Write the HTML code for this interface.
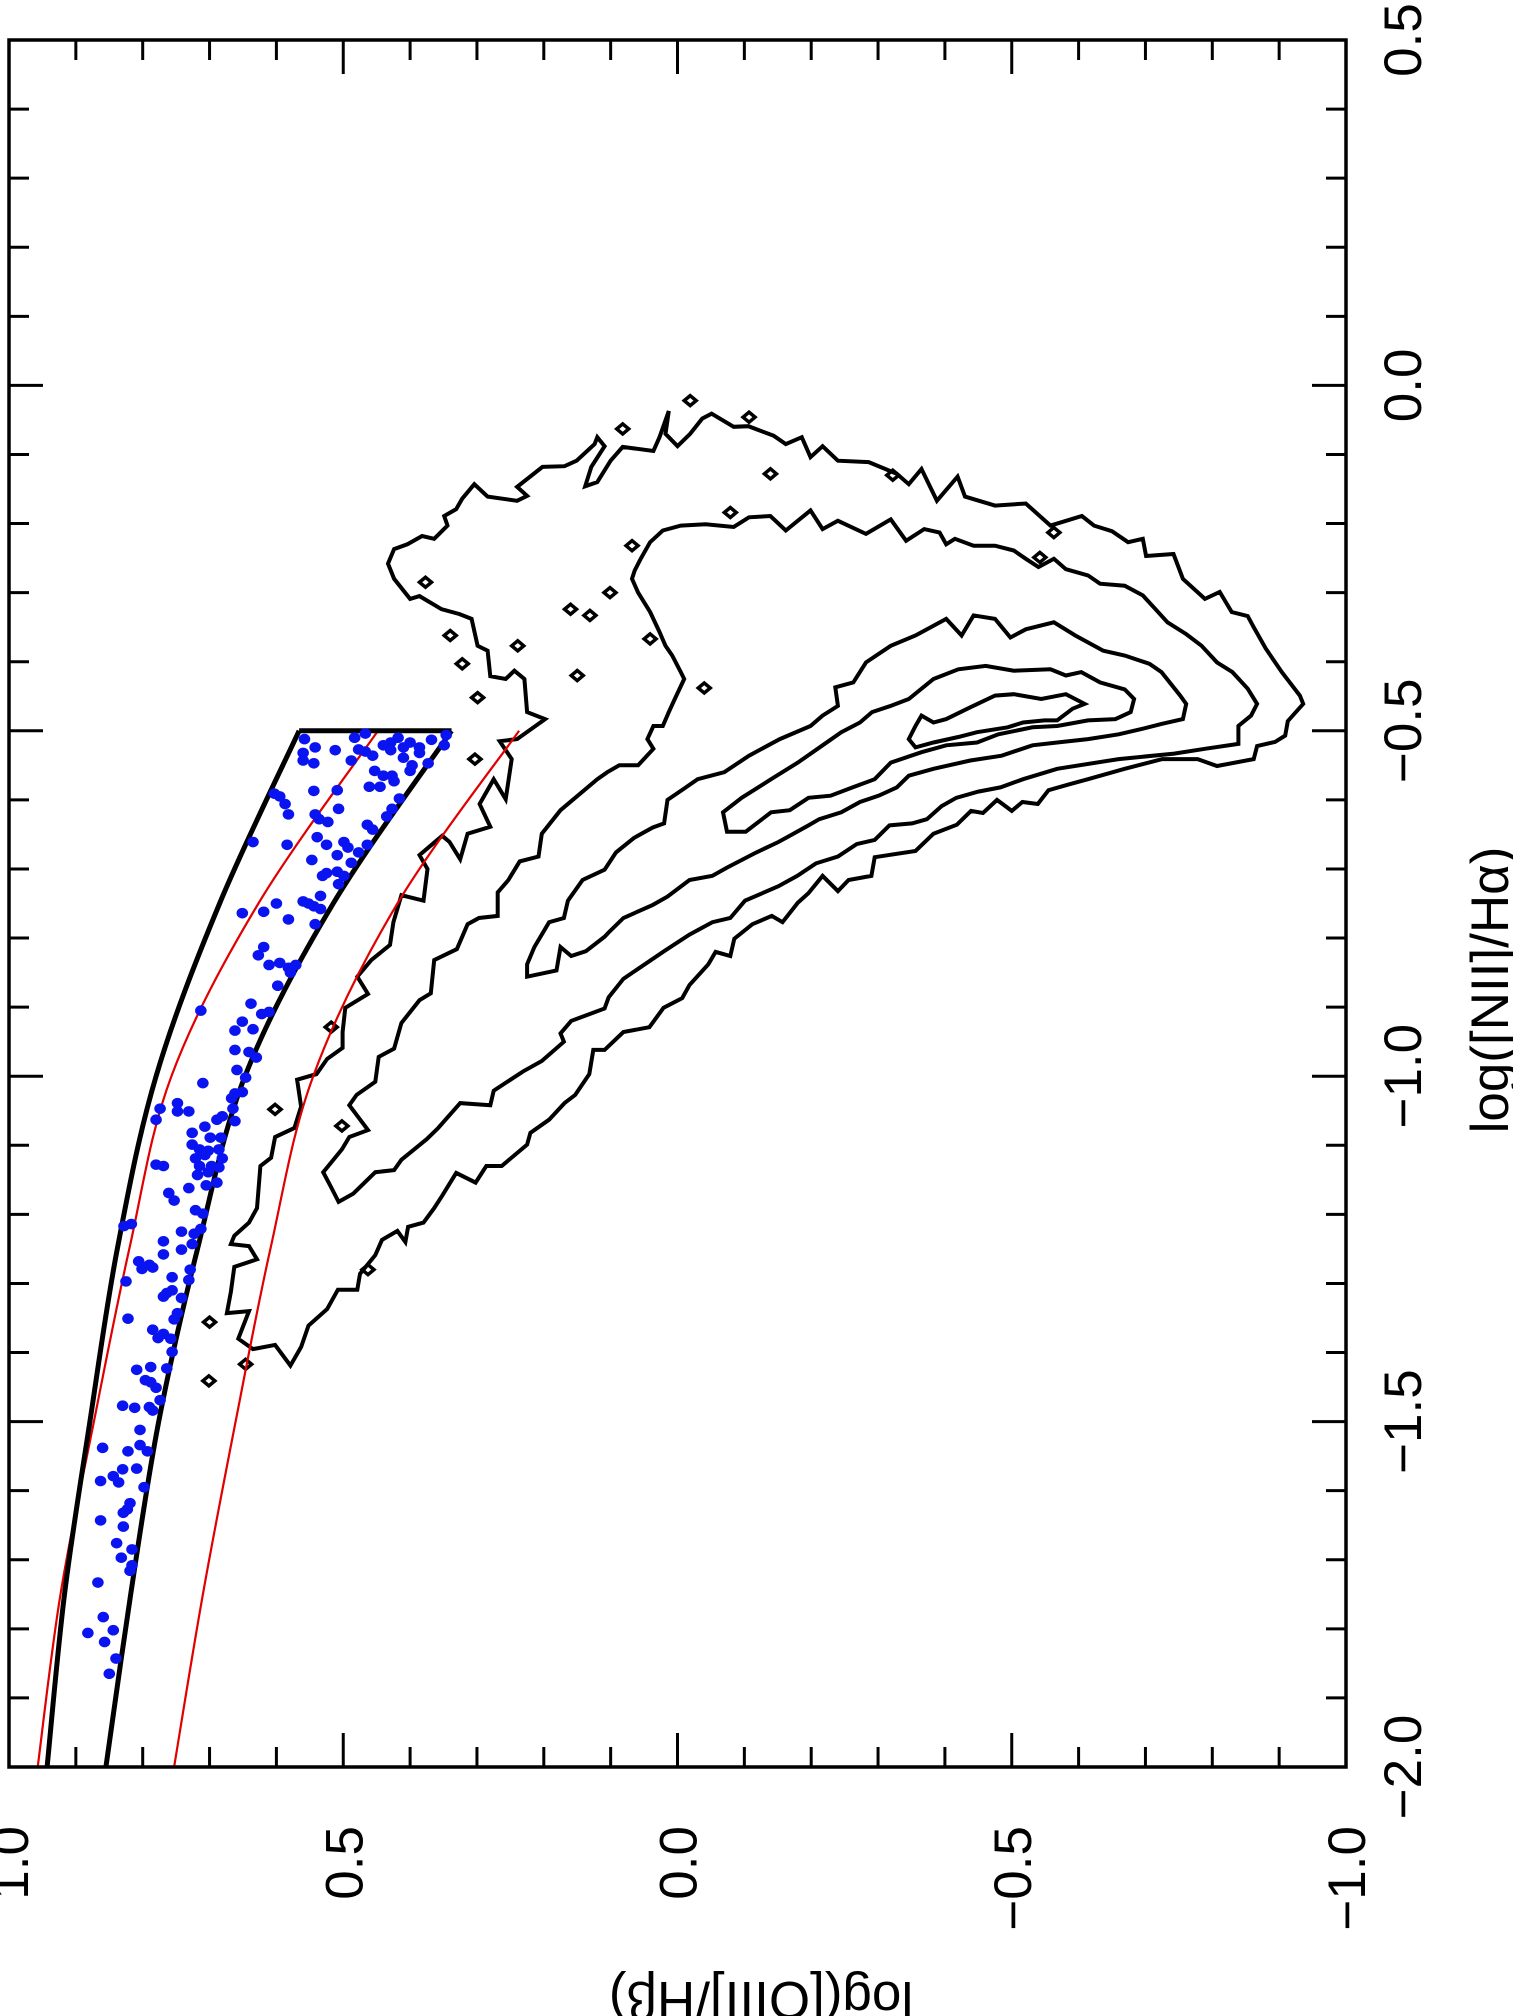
<!DOCTYPE html>
<html><head><meta charset="utf-8"><style>
html,body{margin:0;padding:0;background:#fff;}
svg{display:block;}
text{font-family:"Liberation Sans",Arial,sans-serif;fill:#000;}
</style></head><body>
<svg id="chart" width="1513" height="2016" viewBox="0 0 1513 2016" xmlns="http://www.w3.org/2000/svg">
<g id="plot"></g>
</svg>
<script>
const NS="http://www.w3.org/2000/svg";
// ---- data ----
const nTickMajor=[-2.0,-1.5,-1.0,-0.5,0.0,0.5];
const nTickLabels=["\u22122.0","\u22121.5","\u22121.0","\u22120.5","0.0","0.5"];
const oTickMajor=[1.0,0.5,0.0,-0.5,-1.0];
const oTickLabels=["1.0","0.5","0.0","\u22120.5","\u22121.0"];
const curveU=[-2,-1.75,-1.5,-1.25,-1,-0.75,-0.5];
const blackOuterV=[0.943,0.917,0.879,0.838,0.780,0.685,0.566];
const blackInnerV=[0.855,0.818,0.776,0.718,0.647,0.515,0.338];
const redOuterV=[0.957,0.923,0.873,0.820,0.757,0.627,0.448];
const redInnerV=[0.753,0.710,0.661,0.609,0.545,0.419,0.237];
const dotU=[-0.512,-0.524,-0.528,-0.510,-0.504,-0.527,-0.530,-0.521,-0.517,-0.510,
-0.528,-0.524,-0.517,-0.524,-0.513,-0.506,-0.521,-0.532,-0.532,-0.543,
-0.547,-0.543,-0.536,-0.539,-0.550,-0.547,-0.558,-0.565,-0.565,-0.573,
-0.558,-0.581,-0.581,-0.586,-0.587,-0.591,-0.595,-0.606,-0.621,-0.598,
-0.613,-0.624,-0.636,-0.643,-0.621,-0.628,-0.632,-0.613,-0.661,-0.665,
-0.654,-0.665,-0.661,-0.669,-0.676,-0.665,-0.680,-0.691,-0.687,-0.710,
-0.706,-0.704,-0.710,-0.722,-0.739,-0.747,-0.750,-0.754,-0.758,-0.750,
-0.762,-0.764,-0.773,-0.780,-0.813,-0.825,-0.839,-0.836,-0.843,-0.839,
-0.850,-0.869,-0.895,-0.910,-0.907,-0.905,-0.921,-0.934,-0.932,-0.962,
-0.965,-0.973,-0.991,-1.002,-1.010,-1.025,-1.023,-1.032,-1.047,-1.065,
-1.047,-1.039,-1.051,-1.051,-1.063,-1.063,-1.058,-1.073,-1.082,-1.089,
-1.089,-1.099,-1.106,-1.108,-1.106,-1.119,-1.114,-1.119,-1.128,-1.130,
-1.130,-1.130,-1.132,-1.143,-1.139,-1.154,-1.158,-1.162,-1.169,-1.180,
-1.194,-1.199,-1.217,-1.214,-1.225,-1.228,-1.221,-1.239,-1.251,-1.243,
-1.268,-1.279,-1.273,-1.277,-1.258,-1.297,-1.291,-1.280,-1.295,-1.314,
-1.310,-1.319,-1.321,-1.351,-1.343,-1.352,-1.367,-1.379,-1.373,-1.380,
-1.399,-1.425,-1.421,-1.423,-1.440,-1.443,-1.451,-1.477,-1.480,-1.479,
-1.484,-1.469,-1.512,-1.538,-1.543,-1.534,-1.543,-1.569,-1.568,-1.579,
-1.588,-1.586,-1.595,
-1.618,-1.627,-1.632,-1.643,-1.652,-1.676,-1.685,-1.697,-1.708,-1.716,-1.733,-1.783,-1.806,-1.802,-1.819,-1.843,-1.865];
const dotV=[0.558,0.542,0.512,0.483,0.467,0.477,0.467,0.440,0.429,0.418,
0.429,0.410,0.400,0.386,0.368,0.346,0.349,0.386,0.560,0.560,
0.544,0.488,0.456,0.410,0.397,0.373,0.453,0.440,0.427,0.424,
0.400,0.445,0.461,0.509,0.544,0.603,0.595,0.587,0.582,0.416,
0.427,0.435,0.464,0.456,0.542,0.536,0.523,0.507,0.635,0.584,
0.539,0.525,0.499,0.493,0.477,0.464,0.509,0.488,0.547,0.531,
0.525,0.509,0.499,0.507,0.534,0.560,0.552,0.544,0.534,0.600,
0.619,0.651,0.582,0.542,0.619,0.627,0.611,0.595,0.582,0.571,
0.579,0.598,0.638,0.622,0.611,0.713,0.651,0.662,0.635,0.662,
0.641,0.630,0.659,0.646,0.710,0.662,0.651,0.667,0.665,0.662,
0.774,0.748,0.748,0.731,0.780,0.689,0.681,0.707,0.726,0.699,
0.683,0.726,0.715,0.702,0.686,0.721,0.707,0.681,0.780,0.769,
0.715,0.697,0.686,0.718,0.702,0.689,0.705,0.731,0.761,0.753,
0.721,0.710,0.828,0.817,0.742,0.723,0.713,0.769,0.742,0.726,
0.806,0.801,0.790,0.785,0.769,0.825,0.756,0.729,0.731,0.764,
0.756,0.769,0.742,0.822,0.748,0.753,0.785,0.777,0.769,0.758,
0.756,0.809,0.788,0.764,0.796,0.788,0.780,0.830,0.812,0.790,
0.785,0.774,0.804,0.860,0.822,0.804,0.793,0.830,0.809,0.844,
0.836,0.863,0.798,
0.819,0.823,0.829,0.863,0.829,0.839,0.816,0.832,0.816,0.819,0.867,0.859,0.882,0.844,0.857,0.840,0.850];
const contourA=[[-0.599,0.257],[-0.541,0.248],[-0.515,0.266],[-0.512,0.240],[-0.483,0.198],[-0.473,0.225],[-0.425,0.229],[-0.413,0.244],[-0.425,0.257],[-0.421,0.280],[-0.384,0.284],[-0.377,0.299],[-0.338,0.308],[-0.331,0.326],[-0.324,0.353],[-0.305,0.386],[-0.309,0.400],[-0.280,0.424],[-0.258,0.433],[-0.237,0.424],[-0.230,0.404],[-0.218,0.382],[-0.222,0.364],[-0.203,0.344],[-0.189,0.349],[-0.179,0.331],[-0.164,0.322],[-0.143,0.304],[-0.161,0.284],[-0.167,0.240],[-0.160,0.225],[-0.147,0.240],[-0.118,0.202],[-0.117,0.169],[-0.109,0.151],[-0.085,0.124],[-0.075,0.120],[-0.088,0.109],[-0.118,0.129],[-0.146,0.138],[-0.140,0.120],[-0.109,0.100],[-0.089,0.082],[-0.095,0.036],[-0.075,0.027],[-0.037,0.013],[-0.070,0.018],[-0.088,0.000],[-0.070,-0.019],[-0.048,-0.037],[-0.041,-0.051],[-0.060,-0.084],[-0.059,-0.106],[-0.073,-0.144],[-0.085,-0.162],[-0.075,-0.186],[-0.104,-0.199],[-0.088,-0.217],[-0.109,-0.240],[-0.111,-0.286],[-0.128,-0.328],[-0.143,-0.346],[-0.121,-0.365],[-0.167,-0.388],[-0.132,-0.419],[-0.161,-0.430],[-0.174,-0.475],[-0.171,-0.521],[-0.203,-0.558],[-0.189,-0.605],[-0.203,-0.623],[-0.211,-0.650],[-0.227,-0.674],[-0.222,-0.696],[-0.247,-0.701],[-0.244,-0.742],[-0.280,-0.756],[-0.309,-0.789],[-0.299,-0.811],[-0.328,-0.829],[-0.334,-0.853],[-0.350,-0.862],[-0.381,-0.880],[-0.415,-0.904],[-0.449,-0.931],[-0.461,-0.936],[-0.486,-0.913],[-0.507,-0.909],[-0.516,-0.894],[-0.522,-0.867],[-0.541,-0.862],[-0.551,-0.807],[-0.541,-0.778],[-0.541,-0.725],[-0.555,-0.669],[-0.570,-0.614],[-0.578,-0.584],[-0.586,-0.555],[-0.606,-0.539],[-0.603,-0.516],[-0.616,-0.500],[-0.600,-0.478],[-0.619,-0.457],[-0.616,-0.439],[-0.636,-0.418],[-0.649,-0.383],[-0.674,-0.356],[-0.683,-0.295],[-0.710,-0.290],[-0.716,-0.256],[-0.732,-0.240],[-0.710,-0.217],[-0.735,-0.196],[-0.749,-0.180],[-0.777,-0.157],[-0.768,-0.141],[-0.780,-0.112],[-0.801,-0.085],[-0.826,-0.079],[-0.820,-0.057],[-0.838,-0.046],[-0.868,-0.018],[-0.887,-0.007],[-0.901,0.021],[-0.929,0.042],[-0.936,0.081],[-0.962,0.109],[-0.962,0.126],[-0.997,0.132],[-1.027,0.153],[-1.039,0.169],[-1.063,0.192],[-1.082,0.220],[-1.099,0.225],[-1.130,0.263],[-1.130,0.286],[-1.154,0.302],[-1.140,0.331],[-1.173,0.352],[-1.191,0.364],[-1.212,0.380],[-1.218,0.403],[-1.240,0.407],[-1.224,0.419],[-1.237,0.442],[-1.259,0.452],[-1.286,0.475],[-1.309,0.479],[-1.309,0.508],[-1.337,0.524],[-1.361,0.552],[-1.392,0.563],[-1.419,0.579],[-1.389,0.602],[-1.395,0.635],[-1.380,0.657],[-1.340,0.641],[-1.343,0.674],[-1.312,0.668],[-1.276,0.663],[-1.265,0.629],[-1.246,0.641],[-1.243,0.668],[-1.231,0.663],[-1.212,0.641],[-1.191,0.629],[-1.130,0.624],[-1.118,0.608],[-1.088,0.602],[-1.075,0.573],[-1.044,0.563],[-1.005,0.569],[-0.997,0.540],[-0.975,0.524],[-0.959,0.501],[-0.936,0.501],[-0.901,0.497],[-0.881,0.463],[-0.856,0.479],[-0.832,0.458],[-0.810,0.430],[-0.777,0.425],[-0.738,0.413],[-0.746,0.380],[-0.700,0.374],[-0.680,0.386],[-0.652,0.352],[-0.661,0.341],[-0.686,0.325],[-0.649,0.314],[-0.639,0.280],[-0.606,0.296],[-0.570,0.275]];
const contourB=[[-1.182,0.507],[-1.161,0.518],[-1.139,0.530],[-1.106,0.502],[-1.088,0.491],[-1.078,0.463],[-1.042,0.491],[-1.027,0.480],[-1.008,0.452],[-0.972,0.447],[-0.960,0.424],[-0.923,0.413],[-0.890,0.386],[-0.880,0.369],[-0.832,0.364],[-0.816,0.330],[-0.780,0.314],[-0.771,0.297],[-0.768,0.269],[-0.734,0.269],[-0.716,0.253],[-0.689,0.236],[-0.682,0.208],[-0.649,0.203],[-0.615,0.175],[-0.570,0.120],[-0.560,0.105],[-0.550,0.087],[-0.550,0.059],[-0.526,0.036],[-0.512,0.045],[-0.493,0.036],[-0.493,0.022],[-0.473,0.013],[-0.454,0.004],[-0.425,-0.010],[-0.415,-0.005],[-0.391,0.008],[-0.377,0.018],[-0.357,0.027],[-0.328,0.041],[-0.300,0.059],[-0.280,0.068],[-0.268,0.064],[-0.251,0.055],[-0.227,0.041],[-0.210,0.022],[-0.203,-0.005],[-0.201,-0.042],[-0.205,-0.084],[-0.191,-0.107],[-0.189,-0.139],[-0.210,-0.162],[-0.181,-0.199],[-0.208,-0.217],[-0.196,-0.240],[-0.215,-0.282],[-0.194,-0.319],[-0.225,-0.342],[-0.208,-0.369],[-0.213,-0.392],[-0.230,-0.402],[-0.222,-0.415],[-0.232,-0.443],[-0.232,-0.475],[-0.239,-0.503],[-0.251,-0.521],[-0.263,-0.540],[-0.251,-0.563],[-0.266,-0.581],[-0.275,-0.614],[-0.287,-0.632],[-0.290,-0.669],[-0.304,-0.696],[-0.324,-0.715],[-0.343,-0.733],[-0.360,-0.761],[-0.377,-0.784],[-0.401,-0.807],[-0.415,-0.830],[-0.439,-0.853],[-0.461,-0.867],[-0.478,-0.858],[-0.493,-0.839],[-0.519,-0.839],[-0.526,-0.789],[-0.533,-0.743],[-0.541,-0.660],[-0.555,-0.568],[-0.570,-0.517],[-0.582,-0.483],[-0.588,-0.450],[-0.597,-0.417],[-0.609,-0.395],[-0.628,-0.373],[-0.634,-0.351],[-0.637,-0.317],[-0.658,-0.295],[-0.664,-0.268],[-0.682,-0.240],[-0.692,-0.207],[-0.710,-0.179],[-0.725,-0.151],[-0.746,-0.101],[-0.771,-0.079],[-0.777,-0.052],[-0.795,-0.018],[-0.819,0.020],[-0.859,0.081],[-0.886,0.103],[-0.902,0.109],[-0.920,0.159],[-0.938,0.175],[-0.950,0.170],[-0.978,0.203],[-0.993,0.231],[-1.021,0.275],[-1.042,0.280],[-1.039,0.325],[-1.075,0.358],[-1.091,0.375],[-1.121,0.413],[-1.136,0.424],[-1.139,0.452],[-1.170,0.485]];
const contourC=[[-0.856,0.225],[-0.838,0.225],[-0.813,0.214],[-0.777,0.192],[-0.771,0.170],[-0.746,0.164],[-0.716,0.142],[-0.701,0.109],[-0.676,0.092],[-0.655,0.065],[-0.640,0.037],[-0.634,0.020],[-0.600,0.015],[-0.585,-0.008],[-0.570,-0.030],[-0.560,-0.070],[-0.536,-0.107],[-0.512,-0.153],[-0.493,-0.199],[-0.478,-0.217],[-0.464,-0.240],[-0.437,-0.236],[-0.430,-0.263],[-0.401,-0.282],[-0.377,-0.319],[-0.362,-0.356],[-0.338,-0.402],[-0.362,-0.425],[-0.333,-0.443],[-0.338,-0.475],[-0.365,-0.498],[-0.353,-0.521],[-0.343,-0.563],[-0.362,-0.595],[-0.384,-0.637],[-0.391,-0.669],[-0.403,-0.706],[-0.415,-0.724],[-0.449,-0.752],[-0.461,-0.761],[-0.483,-0.756],[-0.490,-0.724],[-0.497,-0.696],[-0.505,-0.660],[-0.512,-0.614],[-0.517,-0.568],[-0.521,-0.531],[-0.536,-0.485],[-0.543,-0.438],[-0.555,-0.383],[-0.565,-0.346],[-0.582,-0.328],[-0.594,-0.301],[-0.603,-0.273],[-0.618,-0.245],[-0.628,-0.212],[-0.637,-0.196],[-0.652,-0.168],[-0.661,-0.151],[-0.676,-0.118],[-0.698,-0.074],[-0.710,-0.052],[-0.716,-0.018],[-0.740,0.015],[-0.752,0.037],[-0.771,0.081],[-0.792,0.103],[-0.798,0.109],[-0.819,0.137],[-0.826,0.159],[-0.813,0.175],[-0.847,0.181]];
const contourD=[[-0.570,-0.140],[-0.597,-0.096],[-0.618,-0.068],[-0.646,-0.074],[-0.646,-0.102],[-0.618,-0.140],[-0.615,-0.168],[-0.597,-0.196],[-0.594,-0.229],[-0.582,-0.262],[-0.570,-0.295],[-0.546,-0.319],[-0.531,-0.365],[-0.521,-0.402],[-0.517,-0.448],[-0.505,-0.480],[-0.495,-0.531],[-0.493,-0.568],[-0.485,-0.614],[-0.483,-0.655],[-0.473,-0.678],[-0.454,-0.683],[-0.440,-0.669],[-0.430,-0.632],[-0.415,-0.604],[-0.420,-0.581],[-0.411,-0.558],[-0.413,-0.503],[-0.406,-0.461],[-0.411,-0.420],[-0.425,-0.383],[-0.454,-0.346],[-0.464,-0.319],[-0.473,-0.291],[-0.488,-0.273],[-0.502,-0.245],[-0.521,-0.217],[-0.546,-0.180]];
const contourE=[[-0.493,-0.356],[-0.478,-0.365],[-0.488,-0.383],[-0.483,-0.402],[-0.466,-0.438],[-0.449,-0.475],[-0.447,-0.503],[-0.454,-0.544],[-0.447,-0.581],[-0.461,-0.609],[-0.468,-0.591],[-0.485,-0.568],[-0.485,-0.549],[-0.488,-0.517],[-0.495,-0.494],[-0.502,-0.448],[-0.509,-0.420],[-0.517,-0.383],[-0.524,-0.356],[-0.512,-0.346]];
const islandU=[-0.063,-0.184,-0.324,-0.362,-0.377,-0.403,-0.452,-0.300,-0.367,-0.285,-0.213,-0.249,-0.541,-0.232,-0.022,-0.046,-1.356,-1.417,-1.441,-1.280,-1.072,-1.048,-0.929,-0.128,-0.130,-0.333,-0.420,-0.438];
const islandV=[0.082,-0.079,0.160,0.340,0.239,0.322,0.299,0.101,0.041,0.377,-0.563,-0.542,0.303,0.068,-0.019,-0.107,0.700,0.646,0.701,0.463,0.502,0.602,0.518,-0.139,-0.322,0.131,0.150,-0.040];

// ---- axes ----
const L=9,R=1346,T=40,B=1767;
function X(v){return L+(1-v)*(R-L)/2;}
function Y(u){return B-(u+2)*(B-T)/2.5;}
const g=document.getElementById('plot');
function el(tag,attrs,parent){const e=document.createElementNS(NS,tag);for(const k in attrs)e.setAttribute(k,attrs[k]);(parent||g).appendChild(e);return e;}
function pathFromPts(pts,close){return 'M'+pts.map(p=>X(p[1]).toFixed(1)+','+Y(p[0]).toFixed(1)).join('L')+(close?'Z':'');}
function smoothPath(us,vs){
  const P=us.map((u,i)=>[X(vs[i]),Y(u)]);
  let d='M'+P[0][0].toFixed(1)+','+P[0][1].toFixed(1);
  for(let i=0;i<P.length-1;i++){
    const p0=P[Math.max(0,i-1)],p1=P[i],p2=P[i+1],p3=P[Math.min(P.length-1,i+2)];
    const c1=[p1[0]+(p2[0]-p0[0])/6,p1[1]+(p2[1]-p0[1])/6];
    const c2=[p2[0]-(p3[0]-p1[0])/6,p2[1]-(p3[1]-p1[1])/6];
    d+='C'+c1[0].toFixed(1)+','+c1[1].toFixed(1)+' '+c2[0].toFixed(1)+','+c2[1].toFixed(1)+' '+p2[0].toFixed(1)+','+p2[1].toFixed(1);
  }
  return d;
}

// contours
const contourSet=[contourA,contourB,contourC,contourD,contourE];
const cg=el('g',{});


contourSet.forEach((c,i)=>{
  const p=el('path',{d:pathFromPts(c,true),fill:'none',stroke:'#000','stroke-width':4,'stroke-linejoin':'miter'},cg);
  
  
});
islandU.forEach((u,i)=>{
  const x=X(islandV[i]),y=Y(u);
  const p=el('path',{d:`M${x-6},${y}L${x},${y-5}L${x+6},${y}L${x},${y+5}Z`,fill:'none',stroke:'#000','stroke-width':3.5},cg);
  
  
});

// red curves
[redOuterV,redInnerV].forEach((vs,i)=>{
  const p=el('path',{d:smoothPath(curveU,vs),fill:'none',stroke:'#e00000','stroke-width':2.2});
  
  
});
// black boundary curves
[blackOuterV,blackInnerV].forEach((vs,i)=>{
  const p=el('path',{d:smoothPath(curveU,vs),fill:'none',stroke:'#000','stroke-width':5});
  
  
});
const topLine=el('line',{x1:X(blackOuterV[6]),y1:Y(curveU[6]),x2:X(blackInnerV[6]),y2:Y(curveU[6]),stroke:'#000','stroke-width':5});



// dots
const dg=el('g',{});


dotU.forEach((u,i)=>{
  const c=el('ellipse',{cx:X(dotV[i]),cy:Y(u),rx:5.8,ry:5.3,fill:'#0a14f0'},dg);
  
  
});

// frame
const frame=el('rect',{x:L,y:T,width:R-L,height:B-T,fill:'none',stroke:'#000','stroke-width':3.5});



// ticks
const tg=el('g',{stroke:'#000','stroke-width':3});


for(let k=-20;k<=5;k++){
  const u=k/10, maj=(k%5===0), len=maj?34:20, y=Y(u);
  el('line',{x1:R,y1:y,x2:R-len,y2:y},tg);
  el('line',{x1:L,y1:y,x2:L+len,y2:y},tg);
}
for(let k=-10;k<=10;k++){
  const v=k/10, maj=(k%5===0), len=maj?34:20, x=X(v);
  el('line',{x1:x,y1:B,x2:x,y2:B-len},tg);
  el('line',{x1:x,y1:T,x2:x,y2:T+len},tg);
}
// tick labels
nTickMajor.forEach((u,i)=>{
  const t=el('text',{transform:`translate(1421,${Y(u)}) rotate(-90)`,'text-anchor':'middle','font-size':53});
  t.textContent=nTickLabels[i];
  
  
});
oTickMajor.forEach((v,i)=>{
  const t=el('text',{transform:`translate(${X(v)+19},1826) rotate(-90)`,'text-anchor':'end','font-size':53});
  t.textContent=oTickLabels[i];
  
  
});
const xt=el('text',{transform:'translate(1508,990) rotate(-90)','text-anchor':'middle','font-size':53});
xt.textContent='log([NII]/H\u03b1)';


const yt=el('text',{transform:'translate(761,1982) rotate(180)','text-anchor':'middle','font-size':53});
yt.textContent='log([OIII]/H\u03b2)';


</script>
</body></html>
